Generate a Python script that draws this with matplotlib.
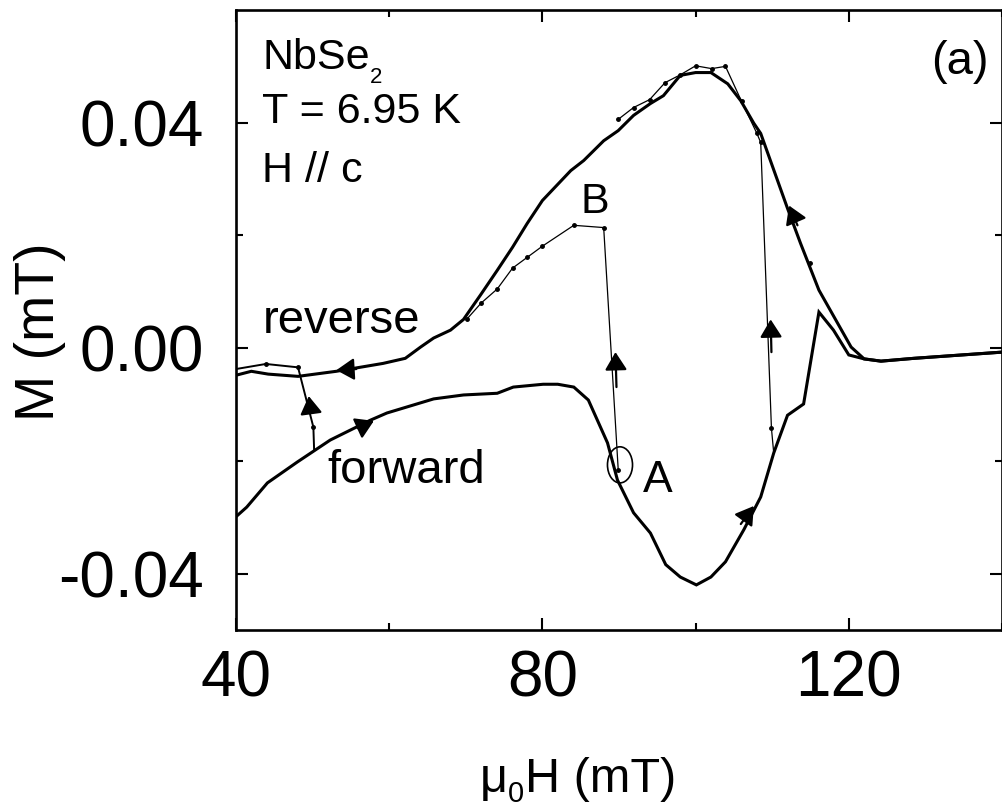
import matplotlib
matplotlib.use("Agg")
import matplotlib.pyplot as plt
from matplotlib.patches import Ellipse

plt.rcParams['font.family'] = ['Liberation Sans', 'DejaVu Sans']
plt.rcParams['axes.unicode_minus'] = False

# ---------------- data ----------------
forward_H = [40.0, 41.4, 44.1, 48.0, 52.3, 57.5, 59.7, 65.8, 69.7, 74.1, 76.2, 80.1, 82.0,
             84.1, 86.0, 88.5, 89.8, 91.9, 94.1, 96.1, 98.0, 100.1, 102.0, 103.9, 106.3,
             108.5, 110.2, 112.0, 114.1, 116.1, 118.0, 120.0, 122.0, 124.2, 128.5, 140.0]
forward_M = [-0.0299, -0.0282, -0.0239, -0.0202, -0.0163, -0.0128, -0.0115, -0.0090, -0.0083,
             -0.0080, -0.0069, -0.0064, -0.0064, -0.0069, -0.0092, -0.0168, -0.0234, -0.0292,
             -0.0328, -0.0384, -0.0406, -0.0420, -0.0406, -0.0379, -0.0322, -0.0264, -0.0186,
             -0.0119, -0.0099, 0.0064, 0.0032, -0.0012, -0.0019, -0.0023, -0.0018, -0.0007]

reverse_H = [40.0, 42.0, 44.2, 48.1, 53.1, 59.2, 62.1, 64.1, 65.8, 68.0, 69.7, 71.9, 74.1,
             76.1, 78.0, 80.0, 83.7, 85.4, 88.0, 89.9, 91.9, 94.1, 95.8, 98.0, 100.0, 102.0,
             104.2, 105.9, 107.6, 108.5, 112.0, 113.7, 116.1, 120.3, 122.0, 124.2, 128.5, 140.0]
reverse_M = [-0.0048, -0.0041, -0.0046, -0.0050, -0.0041, -0.0027, -0.0018, 0.0002, 0.0018,
             0.0032, 0.0051, 0.0094, 0.0138, 0.0179, 0.0221, 0.0262, 0.0315, 0.0333, 0.0368,
             0.0386, 0.0413, 0.0434, 0.0448, 0.0484, 0.0489, 0.0489, 0.0469, 0.0439, 0.0399,
             0.0381, 0.0248, 0.0186, 0.0103, 0.0002, -0.0019, -0.0023, -0.0018, -0.0007]

# minor loop near 50 mT
loop1_H = [50.2, 50.1, 48.1, 43.9, 40.0]
loop1_M = [-0.0181, -0.0140, -0.0034, -0.0028, -0.0037]

# minor loop from A to B
loopB_H = [89.9, 88.0, 84.1, 80.0, 78.0, 76.1, 74.1, 72.0, 70.1]
loopB_M = [-0.0216, 0.0214, 0.0218, 0.0181, 0.0161, 0.0142, 0.0105, 0.0080, 0.0051]

# minor loop near 110 mT
loop110_H = [110.2, 109.9, 108.5, 108.0, 106.0, 103.9, 102.1, 100.0, 98.0, 96.0, 94.0, 91.9, 89.9]
loop110_M = [-0.0186, -0.0142, 0.0365, 0.0381, 0.0438, 0.0500, 0.0496, 0.0501, 0.0485,
             0.0471, 0.0441, 0.0427, 0.0406]

extra_dot_H = [115.0]
extra_dot_M = [0.0152]

x_major = [40, 80, 120]
x_major_labels = ['40', '80', '120']
x_minor = [60, 100, 140]
y_major = [-0.04, 0.00, 0.04]
y_major_labels = ['-0.04', '0.00', '0.04']
y_minor = [-0.02, 0.02]

# arrows: (tail_H, tail_M, tip_H, tip_M)
arrows = [
    (55.7, -0.0037, 53.1, -0.0039),
    (55.9, -0.0142, 58.0, -0.0129),
    (49.8, -0.0115, 49.5, -0.0085),
    (89.67, -0.0069, 89.54, -0.0007),
    (109.9, -0.0007, 109.8, 0.0051),
    (105.9, -0.0312, 107.6, -0.0280),
    (113.3, 0.0218, 112.2, 0.0253),
]

# ---------------- figure ----------------
W, H = 1003, 807
fig = plt.figure(figsize=(W / 100, H / 100), dpi=100)
ax = fig.add_axes([236 / W, 1 - 630 / H, 766 / W, 620 / H])

ax.plot(forward_H, forward_M, color='black', lw=2.2, solid_joinstyle='miter')
ax.plot(reverse_H, reverse_M, color='black', lw=2.2, solid_joinstyle='miter')
ax.plot(loop1_H, loop1_M, color='black', lw=1.4)
ax.plot(loop1_H[1:4], loop1_M[1:4], 'o', color='black', ms=2.5)
ax.plot(loopB_H, loopB_M, color='black', lw=0.9)
ax.plot(loopB_H, loopB_M, 'o', color='black', ms=2.5)
ax.plot(loop110_H, loop110_M, color='black', lw=0.9)
ax.plot(loop110_H[1:], loop110_M[1:], 'o', color='black', ms=2.5)
ax.plot(extra_dot_H, extra_dot_M, 'o', color='black', ms=2.5)

for th, tm, hh, hm in arrows:
    ax.annotate('', xy=(hh, hm), xytext=(th, tm),
                arrowprops=dict(arrowstyle='-|>,head_length=0.68,head_width=0.42',
                                mutation_scale=16, color='black', lw=1.6,
                                shrinkA=0, shrinkB=0))

ax.add_patch(Ellipse((90.13, -0.0207), 3.27, 0.0064, fill=False, edgecolor='black', lw=1.2))

ax.set_xlim(40, 140)
ax.set_ylim(-0.05, 0.06)
ax.set_xticks(x_major)
ax.set_xticklabels(x_major_labels)
ax.set_xticks(x_minor, minor=True)
ax.set_yticks(y_major)
ax.set_yticklabels(y_major_labels)
ax.set_yticks(y_minor, minor=True)
ax.tick_params(which='both', direction='in', top=True, right=True, width=1.5)
ax.tick_params(which='major', length=8.6, labelsize=46)
ax.tick_params(which='minor', length=5)
ax.tick_params(axis='y', which='major', pad=23)
ax.tick_params(axis='x', which='major', pad=14)
for s in ax.spines.values():
    s.set_linewidth(1.9)

# texts
t_nb = ax.text(43.4, 0.0496, 'NbSe', fontsize=31, ha='left', va='baseline')
ax.annotate('2', xy=(1, 0), xycoords=t_nb, xytext=(0.5, -3.6), textcoords='offset points',
            fontsize=16, ha='left', va='baseline')
ax.text(43.4, 0.0399, 'T = 6.95 K', fontsize=31, ha='left', va='baseline')
ax.text(43.4, 0.0294, 'H // c', fontsize=31, ha='left', va='baseline')
ax.text(138.3, 0.0486, '(a)', fontsize=34, ha='right', va='baseline')
ax.text(84.97, 0.0239, 'B', fontsize=31, ha='left', va='baseline')
ax.text(93.07, -0.0255, 'A', fontsize=32, ha='left', va='baseline')
ax.text(43.53, 0.0027, 'reverse', fontsize=34, ha='left', va='baseline')
ax.text(51.9, -0.0239, 'forward', fontsize=34, ha='left', va='baseline')

# x label: mu_0 H (mT) built from pieces so the subscript sits low like the original
t_mu = fig.text(480 / W, 1 - 792 / H, 'μ', fontsize=35, ha='left', va='baseline')
t_sub = ax.annotate('0', xy=(1, 0), xycoords=t_mu, xytext=(0.0, 0.3), textcoords='offset points',
                    fontsize=21, ha='left', va='baseline', annotation_clip=False)
ax.annotate('H (mT)', xy=(1, 0), xycoords=t_sub, xytext=(0.3, 11.4), textcoords='offset points',
            fontsize=35, ha='left', va='baseline', annotation_clip=False)

fig.text(40 / W, 1 - 332 / H, 'M (mT)', fontsize=40, ha='center', va='center', rotation=90)

fig.savefig('out.png', dpi=100)
